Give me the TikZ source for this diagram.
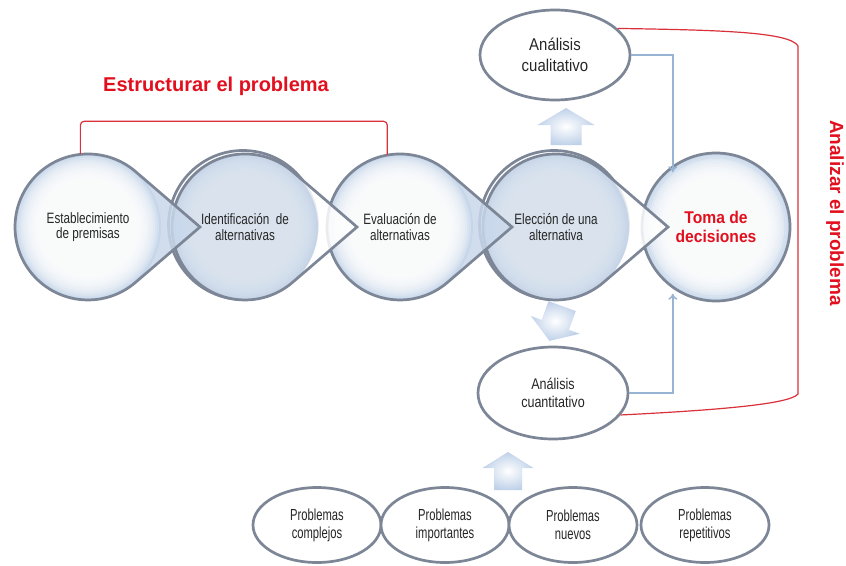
\documentclass[tikz,border=0pt]{standalone}
\usepackage{fontspec}
\setmainfont{Liberation Sans}
\newfontfamily\stagefont[FakeStretch=0.78]{Liberation Sans}
\newfontfamily\qualfont[FakeStretch=0.88]{Liberation Sans}
\newfontfamily\quantfont[FakeStretch=0.81]{Liberation Sans}
\newfontfamily\probfont[FakeStretch=0.70]{Liberation Sans}
\newfontfamily\tomafont[FakeStretch=0.92]{Liberation Sans}
\usetikzlibrary{shapes.geometric,arrows.meta}

\definecolor{ringgrey}{HTML}{7C8696}
\definecolor{rimA}{HTML}{C6D6EA}
\definecolor{ballB}{HTML}{DDE6F1}
\definecolor{rimB}{HTML}{C6D4E7}
\definecolor{tipA}{HTML}{C9D8EB}
\definecolor{hred}{HTML}{E2101E}
\definecolor{lred}{HTML}{D9303A}
\definecolor{lblue}{HTML}{98B4D4}
\definecolor{arrowblue}{HTML}{BFD1E9}
\definecolor{ink}{HTML}{262626}

% soft disc: rim colour fading into a core colour
\newcommand\softdisc[5]{%
  \fill[#3] (#1,#2) circle[radius=#5];
  \foreach \rr in {0,2,...,22} {\fill[#4, fill opacity=0.2] (#1,#2) circle[radius=#5-2-\rr];}
}

\tikzset{
  ring/.style={draw=ringgrey, line width=2.7pt},
  teardrop/.style 2 args={insert path={(#1+112,#2) -- (#1+47.6,#2+55.3) arc[start angle=49.3,end angle=310.7,radius=73] -- cycle}},
  stage/.style={circle, minimum size=146pt, inner sep=0pt, align=center, text=ink,
    font=\stagefont\fontsize{15}{15.5}\selectfont},
  toma/.style={circle, minimum size=148pt, inner sep=0pt, ring,
    align=center, text=hred, font=\tomafont\bfseries\fontsize{17}{19}\selectfont},
  oval/.style={ellipse, ring, fill=white, inner sep=0pt, align=center, text=ink},
  redtitle/.style={text=hred, font=\bfseries\fontsize{20}{22}\selectfont, inner sep=0pt},
  redline/.style={draw=lred, line width=1.2pt},
  conn/.style={draw=lblue, line width=1.5pt, -{To[length=6pt,width=9pt]}},
  blockarrow/.style={shading=radial, inner color=white, outer color=arrowblue},
}

\begin{document}
\begin{tikzpicture}[x=1pt,y=-1pt]
\useasboundingbox (0,0) rectangle (846,565);
\fill[white] (0,0) rectangle (846,565);

% final stage
\softdisc{716}{227}{rimA}{white}{74}
\node[toma] (toma) at (716,227) {Toma de\\decisiones};
\draw[rimA!80!white, line width=0.5pt] (toma.center) circle[radius=69];

% stage 4 (darker, double ring)
\draw[ring] (554,225) circle[radius=74.5];
\fill[white, fill opacity=0.85, teardrop={556}{227}];
\softdisc{556}{227}{rimB}{ballB}{73}
\draw[ring, teardrop={556}{227}];
\node[stage] (s4) at (556,227) {Elección de una\\alternativa};

% stage 3
\fill[tipA, fill opacity=0.85, teardrop={400}{227}];
\softdisc{400}{227}{rimA}{white}{73}
\draw[ring, teardrop={400}{227}];
\node[stage] (s3) at (400,227) {Evaluación de\\alternativas};

% stage 2 (darker, double ring)
\draw[ring] (243,225) circle[radius=74.5];
\fill[white, fill opacity=0.85, teardrop={245}{227}];
\softdisc{245}{227}{rimB}{ballB}{73}
\draw[ring, teardrop={245}{227}];
\node[stage] (s2) at (245,227) {Identificación\ \ de\\alternativas};

% stage 1
\fill[tipA, fill opacity=0.85, teardrop={88}{227}];
\softdisc{88}{227}{rimA}{white}{73}
\draw[ring, teardrop={88}{227}];
\node[stage] (s1) at (88,227) {Establecimiento\\de premisas};

% analysis ovals
\node[oval, minimum width=150pt, minimum height=90pt,
  font=\qualfont\fontsize{17}{21}\selectfont] (cuali) at (555,55) {Análisis\\cualitativo};
\node[oval, minimum width=150pt, minimum height=92pt,
  font=\quantfont\fontsize{15.5}{18.5}\selectfont] (cuanti) at (553,393) {Análisis\\cuantitativo};

% problem types
\tikzset{prob/.style={oval, minimum width=128pt, minimum height=75pt,
  font=\probfont\fontsize{16}{18}\selectfont}}
\node[prob] (p1) at (317,525) {Problemas\\complejos};
\node[prob] (p2) at (445,525) {Problemas\\importantes};
\node[prob] (p3) at (573,525) {Problemas\\nuevos};
\node[prob] (p4) at (705,525) {Problemas\\repetitivos};

% block arrows
\begin{scope}[shift={(566,127)}]
  \shade[blockarrow] (0,-19) -- (28.5,-2) -- (15.5,-2) -- (15.5,18) -- (-15.5,18) -- (-15.5,-2) -- (-28.5,-2) -- cycle;
\end{scope}
\begin{scope}[shift={(556,323)}, rotate=160]
  \shade[blockarrow] (0,-19) -- (26,-2) -- (14.5,-2) -- (14.5,18) -- (-14.5,18) -- (-14.5,-2) -- (-26,-2) -- cycle;
\end{scope}
\begin{scope}[shift={(508,471)}]
  \shade[blockarrow] (0,-19) -- (25.5,-3) -- (14,-3) -- (14,19) -- (-14,19) -- (-14,-3) -- (-25.5,-3) -- cycle;
\end{scope}

% connectors into the decision
\draw[conn, shorten >=-7pt] (cuali.east) -| (toma.125);
\draw[conn, shorten >=5pt] (cuanti.east) -| (toma.235);

% brackets and titles
\node[redtitle] (title1) at (216,86) {Estructurar el problema};
\draw[redline, rounded corners=4pt] (s1.96) -- ++(0,-33) -| (s3.100);
\node[redtitle, rotate=-90, font=\bfseries\fontsize{19}{21}\selectfont] (title2) at (835,213) {Analizar el problema};
\draw[redline] (cuali.23) .. controls (720,30) and (790,32) .. (798,46) -- (798,394)
  .. controls (790,404) and (720,410) .. (cuanti.-18);
\end{tikzpicture}
\end{document}
